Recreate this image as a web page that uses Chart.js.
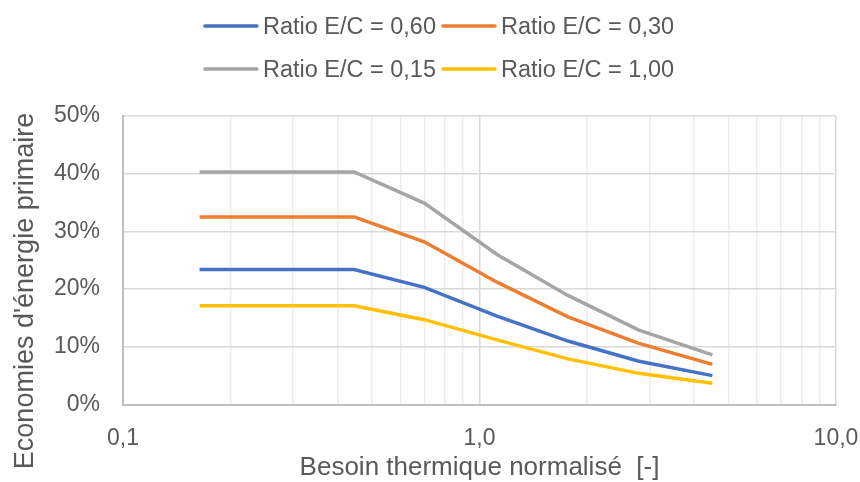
<!DOCTYPE html>
<html>
<head>
<meta charset="utf-8">
<script src="https://cdn.jsdelivr.net/npm/chart.js@4.4.1/dist/chart.umd.min.js"></script>
<style>
html,body{margin:0;padding:0;background:#ffffff;}
#wrap{width:860px;height:482px;position:relative;}
</style>
</head>
<body>
<div id="wrap"><canvas id="c" width="860" height="482"></canvas></div>
<script>
// ---- data ----
const xValues = [0.164, 0.445, 0.70, 1.12, 1.77, 2.8, 4.5];
const ratio060 = [23.4, 23.4, 20.3, 15.3, 11.0, 7.5, 5.0];
const ratio030 = [32.5, 32.5, 28.2, 21.2, 15.2, 10.6, 6.95];
const ratio015 = [40.3, 40.3, 34.9, 26.0, 18.9, 12.9, 8.6];
const ratio100 = [17.1, 17.1, 14.7, 11.2, 7.9, 5.4, 3.7];
const seriesLabels = ['Ratio E/C = 0,60', 'Ratio E/C = 0,30', 'Ratio E/C = 0,15', 'Ratio E/C = 1,00'];
const seriesColors = ['#4472C4', '#ED7D31', '#A5A5A5', '#FFC000'];
const xTickValues = [0.1,0.2,0.3,0.4,0.5,0.6,0.7,0.8,0.9,1,2,3,4,5,6,7,8,9,10];
const xMajorValues = [0.1, 1, 10];
const xMajorLabels = ['0,1', '1,0', '10,0'];
const yTickValues = [0, 10, 20, 30, 40, 50];
const xTitle = 'Besoin thermique normalisé  [-]';
const yTitle = "Economies d'énergie primaire";

const allSeries = [ratio060, ratio030, ratio015, ratio100];
const textColor = '#595959';
const fontFam = '"Liberation Sans", Arial, sans-serif';

function isMajor(v) {
  return xMajorValues.some(m => Math.abs(m - v) < 1e-9);
}

const datasets = allSeries.map((s, i) => ({
  label: seriesLabels[i],
  data: xValues.map((x, j) => ({ x: x, y: s[j] })),
  borderColor: seriesColors[i],
  backgroundColor: seriesColors[i],
  borderWidth: 3.5,
  pointRadius: 0,
  pointHoverRadius: 0,
  tension: 0,
  fill: false
}));

// custom two-row legend and y-axis title drawn on the canvas
const legendPlugin = {
  id: 'twoRowLegend',
  afterDraw(chart) {
    const ctx = chart.ctx;
    ctx.save();
    ctx.font = '23.5px ' + fontFam;
    ctx.textBaseline = 'alphabetic';
    ctx.textAlign = 'left';
    const lineW = 54, gapText = 5, gapItem = 6;
    const rows = [[0, 1], [2, 3]];
    const rowY = [26, 69];
    const centerX = chart.width / 2 + 9;
    rows.forEach((row, r) => {
      const widths = row.map(i => lineW + gapText + ctx.measureText(seriesLabels[i]).width);
      const total = widths.reduce((a, b) => a + b, 0) + gapItem * (row.length - 1);
      let x = centerX - total / 2;
      row.forEach((i, k) => {
        ctx.strokeStyle = seriesColors[i];
        ctx.lineWidth = 3.5;
        ctx.lineCap = 'round';
        ctx.beginPath();
        ctx.moveTo(x + 1, rowY[r]);
        ctx.lineTo(x + lineW - 1, rowY[r]);
        ctx.stroke();
        ctx.fillStyle = textColor;
        ctx.fillText(seriesLabels[i], x + lineW + gapText, rowY[r] + 8.3);
        x += widths[k] + gapItem;
      });
    });
    // y axis title
    ctx.font = '27px ' + fontFam;
    ctx.fillStyle = textColor;
    ctx.textAlign = 'center';
    ctx.textBaseline = 'alphabetic';
    ctx.translate(33, 291);
    ctx.rotate(-Math.PI / 2);
    ctx.fillText(yTitle, 0, 0);
    ctx.restore();
  }
};

new Chart(document.getElementById('c'), {
  type: 'line',
  data: { datasets: datasets },
  plugins: [legendPlugin],
  options: {
    responsive: false,
    animation: false,
    devicePixelRatio: 1,
    layout: { padding: { top: 116, right: 24, bottom: 0, left: 0 } },
    plugins: {
      legend: { display: false },
      tooltip: { enabled: false }
    },
    scales: {
      x: {
        type: 'logarithmic',
        min: 0.1,
        max: 10,
        afterBuildTicks: (scale) => {
          scale.ticks = xTickValues.map(v => ({ value: v }));
        },
        afterFit: (scale) => {
          scale.height = 77.5;
          scale.paddingLeft = 0;
          scale.paddingRight = 0;
        },
        ticks: {
          autoSkip: false,
          maxRotation: 0,
          minRotation: 0,
          padding: 20,
          color: textColor,
          font: { family: fontFam, size: 23 },
          callback: function (v) {
            const k = xMajorValues.findIndex(m => Math.abs(m - v) < 1e-9);
            return k >= 0 ? xMajorLabels[k] : '';
          }
        },
        grid: {
          drawTicks: false,
          lineWidth: 1.5,
          color: (c) => (c.tick && isMajor(c.tick.value)) ? '#d9d9d9' : '#ededed'
        },
        border: { color: '#bfbfbf', width: 2 },
        title: {
          display: true,
          text: xTitle,
          color: textColor,
          font: { family: fontFam, size: 26, lineHeight: 1.1 },
          padding: { top: 0, bottom: 0 }
        }
      },
      y: {
        type: 'linear',
        min: 0,
        max: 50,
        afterBuildTicks: (scale) => {
          scale.ticks = yTickValues.map(v => ({ value: v }));
        },
        afterFit: (scale) => {
          scale.width = 123;
        },
        ticks: {
          padding: 23,
          color: textColor,
          font: { family: fontFam, size: 23 },
          callback: (v) => v + '%'
        },
        grid: {
          drawTicks: false,
          lineWidth: 1.5,
          color: '#d9d9d9'
        },
        border: { color: '#bfbfbf', width: 2 },
        title: { display: false }
      }
    }
  }
});
</script>
</body>
</html>
